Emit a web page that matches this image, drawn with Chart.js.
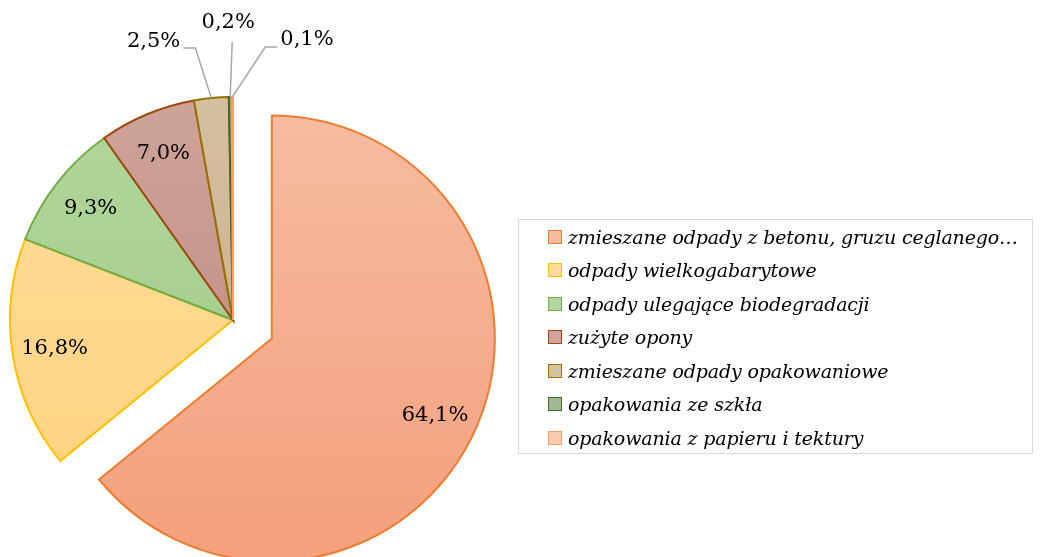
<!DOCTYPE html>
<html>
<head>
<meta charset="utf-8">
<script src="https://cdn.jsdelivr.net/npm/chart.js@4.4.1/dist/chart.umd.min.js"></script>
<style>
    body { margin: 0; background: #fff; }
    #wrap { position: relative; width: 1044px; height: 557px; overflow: hidden; }
    #pie { position: absolute; left: 0; top: 0; }
    #legend {
        position: absolute; left: 518px; top: 219px; width: 515px; height: 235px;
        border: 1px solid #D9D9D9; box-sizing: border-box;
        font: italic 19px "DejaVu Serif"; color: #000;
    }
    .row { height: 33.5px; display: flex; align-items: center; padding-left: 29px; white-space: nowrap; letter-spacing: -0.15px; }
    .box { width: 12px; height: 12px; border: 1.5px solid; margin-right: 6px; flex: none; }
</style>
</head>
<body>
<div id="wrap">
    <canvas id="pie" width="1044" height="557"></canvas>
    <div id="legend"></div>
</div>
<script>
const labels = [
    'zmieszane odpady z betonu, gruzu ceglanego…',
    'odpady wielkogabarytowe',
    'odpady ulegające biodegradacji',
    'zużyte opony',
    'zmieszane odpady opakowaniowe',
    'opakowania ze szkła',
    'opakowania z papieru i tektury'
];
const values = [64.1, 16.8, 9.3, 7.0, 2.5, 0.2, 0.1];

// style
const fillTop = ['#F6BCA2', '#FFDC9C', '#B3D69E', '#CDA39A', '#D5C0A2', '#A3B897', '#F9CBB0'];
const fillBottom = ['#F4A07C', '#FFD27C', '#9BC982', '#BE867B', '#C5A780', '#8AA47C', '#F7BC9A'];
const borders = ['#ED7D31', '#FFC000', '#70AD47', '#9E480E', '#997300', '#43682B', '#F4A06A'];
const explode = [43, 0, 0, 0, 0, 0, 0];
// leader lines for the small slices: elbow relative to arc edge, horizontal tail, text spot
const outside = [null, null, null, null,
    { dx: -16, dy: -50, tail: -12, align: 'right', tx: -3, ty: -7 },
    { dx: 2, dy: -55, tail: 0, align: 'center', tx: -4, ty: -19 },
    { dx: 33, dy: -50, tail: 12, align: 'left', tx: 3, ty: -7 }
];

const fmt = v => v.toFixed(1).replace('.', ',') + '%';

const explodePlugin = {
    id: 'explode',
    afterDatasetUpdate(chart, args) {
        const meta = chart.getDatasetMeta(args.index);
        meta.data.forEach((arc, i) => {
            if (!explode[i]) return;
            const mid = (arc.startAngle + arc.endAngle) / 2;
            arc.x += Math.cos(mid) * explode[i];
            arc.y += Math.sin(mid) * explode[i];
        });
    }
};

const labelPlugin = {
    id: 'sliceLabels',
    afterDatasetsDraw(chart) {
        const ctx = chart.ctx;
        const meta = chart.getDatasetMeta(0);
        ctx.save();
        ctx.font = '21px "DejaVu Serif"';
        ctx.fillStyle = '#000';
        ctx.textBaseline = 'middle';
        meta.data.forEach((arc, i) => {
            const text = fmt(values[i]);
            const mid = (arc.startAngle + arc.endAngle) / 2;
            const o = outside[i];
            if (!o) {
                const r = arc.outerRadius * 0.81;
                ctx.textAlign = 'center';
                ctx.fillText(text, arc.x + Math.cos(mid) * r, arc.y + Math.sin(mid) * r);
                return;
            }
            const ax = arc.x + Math.cos(mid) * arc.outerRadius;
            const ay = arc.y + Math.sin(mid) * arc.outerRadius;
            const ex = ax + o.dx, ey = ay + o.dy;
            ctx.strokeStyle = '#A6A6A6';
            ctx.lineWidth = 1.5;
            ctx.beginPath();
            ctx.moveTo(ax, ay);
            ctx.lineTo(ex, ey);
            if (o.tail) ctx.lineTo(ex + o.tail, ey);
            ctx.stroke();
            ctx.textAlign = o.align;
            ctx.fillText(text, ex + o.tail + o.tx, ey + o.ty);
        });
        ctx.restore();
    }
};

const chart = new Chart(document.getElementById('pie'), {
    type: 'pie',
    data: {
        labels: labels,
        datasets: [{
            data: values,
            backgroundColor: (c) => {
                const area = c.chart.chartArea;
                if (!area) return fillTop[c.dataIndex];
                const g = c.chart.ctx.createLinearGradient(0, area.top + 14, 0, area.bottom);
                g.addColorStop(0, fillTop[c.dataIndex]);
                g.addColorStop(1, fillBottom[c.dataIndex]);
                return g;
            },
            borderColor: borders,
            borderWidth: 2,
            borderJoinStyle: 'miter',
            clip: false
        }]
    },
    options: {
        responsive: false,
        animation: false,
        events: [],
        radius: 223,
        layout: { padding: { left: 0, right: 578, top: 83, bottom: 0 } },
        plugins: { legend: { display: false }, tooltip: { enabled: false } }
    },
    plugins: [explodePlugin, labelPlugin]
});

const legend = document.getElementById('legend');
labels.forEach((l, i) => {
    const row = document.createElement('div');
    row.className = 'row';
    const box = document.createElement('span');
    box.className = 'box';
    box.style.borderColor = borders[i];
    box.style.background = fillTop[i];
    row.appendChild(box);
    row.appendChild(document.createTextNode(l));
    legend.appendChild(row);
});
</script>
</body>
</html>
